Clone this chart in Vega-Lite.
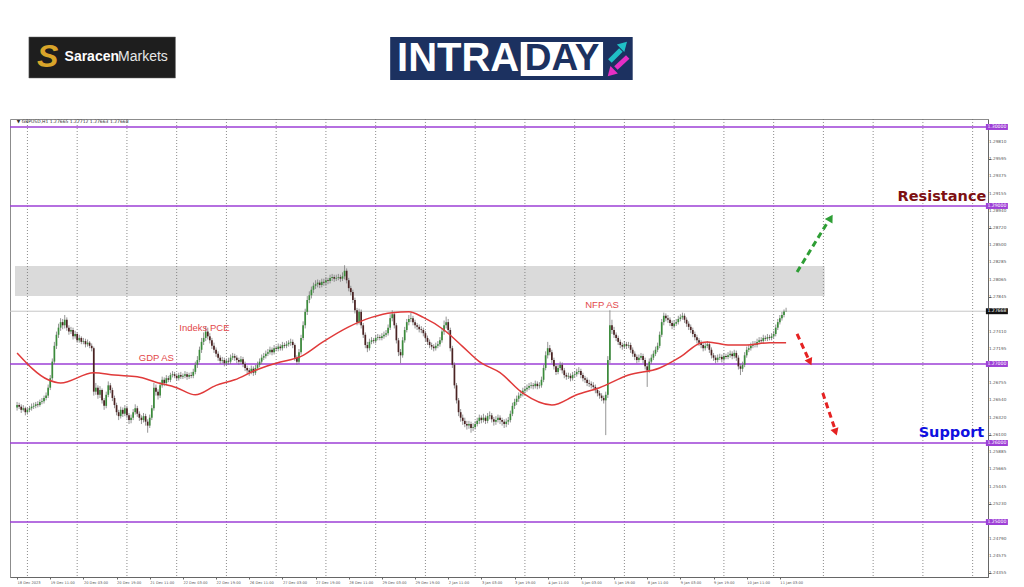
{
"$schema":"https://vega.github.io/schema/vega-lite/v6.json",
"width":978,"height":458,
"autosize":{"type":"none"},
"padding":{"left":10,"top":119,"right":36,"bottom":10},
"background":"white",
"config":{"view":{"stroke":"#8c8c8c","strokeWidth":1},"font":"Liberation Sans","axis":{"grid":false,"labelColor":"#555555","domainColor":"#666666","tickColor":"#666666","labelFont":"DejaVu Sans"}},
"datasets":{
"zone":[{"a":-1,"b":389.6,"lo":1.27861,"hi":1.28241}],
"grid":[{"g":5},{"g":29},{"g":53},{"g":77},{"g":101},{"g":125},{"g":149},{"g":173},{"g":197},{"g":221},{"g":245},{"g":269},{"g":293},{"g":317},{"g":341},{"g":365},{"g":389},{"g":413},{"g":437},{"g":461}],
"yt":[{"p":1.24355},{"p":1.24575},{"p":1.2479},{"p":1.2523},{"p":1.25445},{"p":1.25665},{"p":1.25885},{"p":1.261},{"p":1.2632},{"p":1.2654},{"p":1.26755},{"p":1.27195},{"p":1.2741},{"p":1.27845},{"p":1.28065},{"p":1.28285},{"p":1.285},{"p":1.2872},{"p":1.2894},{"p":1.29155},{"p":1.29375},{"p":1.29595},{"p":1.2981}],
"last":[{"p":1.27668}],
"levels":[{"p":1.3},{"p":1.29},{"p":1.27},{"p":1.26},{"p":1.25}],
"bars":[
{"i":0,"o":1.2645,"h":1.2652,"l":1.2641,"c":1.2648},
{"i":1,"o":1.2648,"h":1.2651,"l":1.2643,"c":1.2646},
{"i":2,"o":1.2646,"h":1.2649,"l":1.2638,"c":1.2642},
{"i":3,"o":1.2642,"h":1.2648,"l":1.2640,"c":1.2644},
{"i":4,"o":1.2644,"h":1.2646,"l":1.2635,"c":1.2639},
{"i":5,"o":1.2639,"h":1.2645,"l":1.2636,"c":1.2642},
{"i":6,"o":1.2642,"h":1.2647,"l":1.2639,"c":1.2644},
{"i":7,"o":1.2644,"h":1.2650,"l":1.2641,"c":1.2646},
{"i":8,"o":1.2646,"h":1.2651,"l":1.2643,"c":1.2647},
{"i":9,"o":1.2647,"h":1.2652,"l":1.2644,"c":1.2649},
{"i":10,"o":1.2649,"h":1.2653,"l":1.2645,"c":1.2648},
{"i":11,"o":1.2648,"h":1.2655,"l":1.2646,"c":1.2652},
{"i":12,"o":1.2652,"h":1.2657,"l":1.2649,"c":1.2653},
{"i":13,"o":1.2653,"h":1.2660,"l":1.2650,"c":1.2657},
{"i":14,"o":1.2657,"h":1.2664,"l":1.2654,"c":1.2660},
{"i":15,"o":1.2660,"h":1.2674,"l":1.2657,"c":1.2670},
{"i":16,"o":1.2670,"h":1.2686,"l":1.2667,"c":1.2682},
{"i":17,"o":1.2682,"h":1.2707,"l":1.2679,"c":1.2703},
{"i":18,"o":1.2703,"h":1.2728,"l":1.2700,"c":1.2723},
{"i":19,"o":1.2723,"h":1.2741,"l":1.2719,"c":1.2737},
{"i":20,"o":1.2737,"h":1.2751,"l":1.2733,"c":1.2746},
{"i":21,"o":1.2746,"h":1.2758,"l":1.2742,"c":1.2753},
{"i":22,"o":1.2753,"h":1.2757,"l":1.2744,"c":1.2749},
{"i":23,"o":1.2749,"h":1.2762,"l":1.2745,"c":1.2756},
{"i":24,"o":1.2756,"h":1.2759,"l":1.2742,"c":1.2746},
{"i":25,"o":1.2746,"h":1.2749,"l":1.2737,"c":1.2741},
{"i":26,"o":1.2741,"h":1.2747,"l":1.2738,"c":1.2743},
{"i":27,"o":1.2743,"h":1.2746,"l":1.2731,"c":1.2735},
{"i":28,"o":1.2735,"h":1.2742,"l":1.2732,"c":1.2738},
{"i":29,"o":1.2738,"h":1.2740,"l":1.2727,"c":1.2730},
{"i":30,"o":1.2730,"h":1.2737,"l":1.2727,"c":1.2733},
{"i":31,"o":1.2733,"h":1.2735,"l":1.2725,"c":1.2728},
{"i":32,"o":1.2728,"h":1.2733,"l":1.2725,"c":1.2729},
{"i":33,"o":1.2729,"h":1.2732,"l":1.2721,"c":1.2725},
{"i":34,"o":1.2725,"h":1.2731,"l":1.2722,"c":1.2727},
{"i":35,"o":1.2727,"h":1.2729,"l":1.2720,"c":1.2723},
{"i":36,"o":1.2723,"h":1.2726,"l":1.2716,"c":1.2720},
{"i":37,"o":1.2720,"h":1.2722,"l":1.2660,"c":1.2665},
{"i":38,"o":1.2665,"h":1.2676,"l":1.2661,"c":1.2670},
{"i":39,"o":1.2670,"h":1.2673,"l":1.2656,"c":1.2661},
{"i":40,"o":1.2661,"h":1.2672,"l":1.2657,"c":1.2667},
{"i":41,"o":1.2667,"h":1.2669,"l":1.2650,"c":1.2654},
{"i":42,"o":1.2654,"h":1.2657,"l":1.2642,"c":1.2647},
{"i":43,"o":1.2647,"h":1.2665,"l":1.2644,"c":1.2661},
{"i":44,"o":1.2661,"h":1.2678,"l":1.2658,"c":1.2673},
{"i":45,"o":1.2673,"h":1.2676,"l":1.2663,"c":1.2667},
{"i":46,"o":1.2667,"h":1.2670,"l":1.2653,"c":1.2657},
{"i":47,"o":1.2657,"h":1.2660,"l":1.2644,"c":1.2648},
{"i":48,"o":1.2648,"h":1.2651,"l":1.2635,"c":1.2639},
{"i":49,"o":1.2639,"h":1.2642,"l":1.2629,"c":1.2634},
{"i":50,"o":1.2634,"h":1.2646,"l":1.2631,"c":1.2642},
{"i":51,"o":1.2642,"h":1.2645,"l":1.2633,"c":1.2637},
{"i":52,"o":1.2637,"h":1.2648,"l":1.2634,"c":1.2644},
{"i":53,"o":1.2644,"h":1.2647,"l":1.2631,"c":1.2635},
{"i":54,"o":1.2635,"h":1.2638,"l":1.2624,"c":1.2629},
{"i":55,"o":1.2629,"h":1.2636,"l":1.2625,"c":1.2632},
{"i":56,"o":1.2632,"h":1.2643,"l":1.2629,"c":1.2639},
{"i":57,"o":1.2639,"h":1.2649,"l":1.2636,"c":1.2644},
{"i":58,"o":1.2644,"h":1.2647,"l":1.2633,"c":1.2637},
{"i":59,"o":1.2637,"h":1.2640,"l":1.2628,"c":1.2632},
{"i":60,"o":1.2632,"h":1.2635,"l":1.2624,"c":1.2629},
{"i":61,"o":1.2629,"h":1.2638,"l":1.2626,"c":1.2634},
{"i":62,"o":1.2634,"h":1.2637,"l":1.2622,"c":1.2627},
{"i":63,"o":1.2627,"h":1.2630,"l":1.2613,"c":1.2622},
{"i":64,"o":1.2622,"h":1.2636,"l":1.2619,"c":1.2632},
{"i":65,"o":1.2632,"h":1.2648,"l":1.2629,"c":1.2644},
{"i":66,"o":1.2644,"h":1.2676,"l":1.2641,"c":1.2670},
{"i":67,"o":1.2670,"h":1.2674,"l":1.2660,"c":1.2665},
{"i":68,"o":1.2665,"h":1.2668,"l":1.2655,"c":1.2660},
{"i":69,"o":1.2660,"h":1.2677,"l":1.2657,"c":1.2673},
{"i":70,"o":1.2673,"h":1.2684,"l":1.2670,"c":1.2680},
{"i":71,"o":1.2680,"h":1.2683,"l":1.2672,"c":1.2676},
{"i":72,"o":1.2676,"h":1.2686,"l":1.2673,"c":1.2682},
{"i":73,"o":1.2682,"h":1.2685,"l":1.2677,"c":1.2680},
{"i":74,"o":1.2680,"h":1.2689,"l":1.2677,"c":1.2686},
{"i":75,"o":1.2686,"h":1.2691,"l":1.2683,"c":1.2687},
{"i":76,"o":1.2687,"h":1.2690,"l":1.2682,"c":1.2685},
{"i":77,"o":1.2685,"h":1.2688,"l":1.2679,"c":1.2682},
{"i":78,"o":1.2682,"h":1.2689,"l":1.2679,"c":1.2686},
{"i":79,"o":1.2686,"h":1.2690,"l":1.2681,"c":1.2684},
{"i":80,"o":1.2684,"h":1.2688,"l":1.2681,"c":1.2685},
{"i":81,"o":1.2685,"h":1.2691,"l":1.2682,"c":1.2687},
{"i":82,"o":1.2687,"h":1.2690,"l":1.2680,"c":1.2684},
{"i":83,"o":1.2684,"h":1.2689,"l":1.2681,"c":1.2686},
{"i":84,"o":1.2686,"h":1.2690,"l":1.2682,"c":1.2685},
{"i":85,"o":1.2685,"h":1.2694,"l":1.2682,"c":1.2690},
{"i":86,"o":1.2690,"h":1.2703,"l":1.2687,"c":1.2699},
{"i":87,"o":1.2699,"h":1.2710,"l":1.2695,"c":1.2705},
{"i":88,"o":1.2705,"h":1.2722,"l":1.2702,"c":1.2718},
{"i":89,"o":1.2718,"h":1.2733,"l":1.2714,"c":1.2728},
{"i":90,"o":1.2728,"h":1.2740,"l":1.2724,"c":1.2733},
{"i":91,"o":1.2733,"h":1.2748,"l":1.2729,"c":1.2741},
{"i":92,"o":1.2741,"h":1.2746,"l":1.2731,"c":1.2735},
{"i":93,"o":1.2735,"h":1.2739,"l":1.2726,"c":1.2730},
{"i":94,"o":1.2730,"h":1.2733,"l":1.2719,"c":1.2723},
{"i":95,"o":1.2723,"h":1.2727,"l":1.2714,"c":1.2718},
{"i":96,"o":1.2718,"h":1.2721,"l":1.2709,"c":1.2713},
{"i":97,"o":1.2713,"h":1.2716,"l":1.2704,"c":1.2708},
{"i":98,"o":1.2708,"h":1.2711,"l":1.2700,"c":1.2704},
{"i":99,"o":1.2704,"h":1.2709,"l":1.2701,"c":1.2705},
{"i":100,"o":1.2705,"h":1.2708,"l":1.2697,"c":1.2701},
{"i":101,"o":1.2701,"h":1.2707,"l":1.2698,"c":1.2704},
{"i":102,"o":1.2704,"h":1.2708,"l":1.2699,"c":1.2703},
{"i":103,"o":1.2703,"h":1.2712,"l":1.2700,"c":1.2708},
{"i":104,"o":1.2708,"h":1.2714,"l":1.2705,"c":1.2710},
{"i":105,"o":1.2710,"h":1.2713,"l":1.2704,"c":1.2708},
{"i":106,"o":1.2708,"h":1.2711,"l":1.2701,"c":1.2705},
{"i":107,"o":1.2705,"h":1.2708,"l":1.2699,"c":1.2703},
{"i":108,"o":1.2703,"h":1.2710,"l":1.2700,"c":1.2706},
{"i":109,"o":1.2706,"h":1.2709,"l":1.2696,"c":1.2700},
{"i":110,"o":1.2700,"h":1.2703,"l":1.2691,"c":1.2695},
{"i":111,"o":1.2695,"h":1.2698,"l":1.2688,"c":1.2692},
{"i":112,"o":1.2692,"h":1.2695,"l":1.2685,"c":1.2690},
{"i":113,"o":1.2690,"h":1.2698,"l":1.2687,"c":1.2694},
{"i":114,"o":1.2694,"h":1.2697,"l":1.2685,"c":1.2689},
{"i":115,"o":1.2689,"h":1.2699,"l":1.2686,"c":1.2695},
{"i":116,"o":1.2695,"h":1.2703,"l":1.2692,"c":1.2699},
{"i":117,"o":1.2699,"h":1.2707,"l":1.2696,"c":1.2703},
{"i":118,"o":1.2703,"h":1.2712,"l":1.2700,"c":1.2708},
{"i":119,"o":1.2708,"h":1.2714,"l":1.2705,"c":1.2710},
{"i":120,"o":1.2710,"h":1.2717,"l":1.2707,"c":1.2713},
{"i":121,"o":1.2713,"h":1.2719,"l":1.2710,"c":1.2715},
{"i":122,"o":1.2715,"h":1.2722,"l":1.2712,"c":1.2718},
{"i":123,"o":1.2718,"h":1.2721,"l":1.2711,"c":1.2715},
{"i":124,"o":1.2715,"h":1.2724,"l":1.2712,"c":1.2720},
{"i":125,"o":1.2720,"h":1.2723,"l":1.2716,"c":1.2719},
{"i":126,"o":1.2719,"h":1.2726,"l":1.2716,"c":1.2722},
{"i":127,"o":1.2722,"h":1.2725,"l":1.2717,"c":1.2720},
{"i":128,"o":1.2720,"h":1.2728,"l":1.2717,"c":1.2724},
{"i":129,"o":1.2724,"h":1.2727,"l":1.2720,"c":1.2723},
{"i":130,"o":1.2723,"h":1.2729,"l":1.2720,"c":1.2725},
{"i":131,"o":1.2725,"h":1.2730,"l":1.2722,"c":1.2727},
{"i":132,"o":1.2727,"h":1.2732,"l":1.2723,"c":1.2728},
{"i":133,"o":1.2728,"h":1.2731,"l":1.2720,"c":1.2724},
{"i":134,"o":1.2724,"h":1.2726,"l":1.2704,"c":1.2708},
{"i":135,"o":1.2708,"h":1.2711,"l":1.2699,"c":1.2703},
{"i":136,"o":1.2703,"h":1.2719,"l":1.2700,"c":1.2715},
{"i":137,"o":1.2715,"h":1.2737,"l":1.2712,"c":1.2733},
{"i":138,"o":1.2733,"h":1.2754,"l":1.2730,"c":1.2749},
{"i":139,"o":1.2749,"h":1.2770,"l":1.2745,"c":1.2766},
{"i":140,"o":1.2766,"h":1.2786,"l":1.2762,"c":1.2781},
{"i":141,"o":1.2781,"h":1.2792,"l":1.2777,"c":1.2787},
{"i":142,"o":1.2787,"h":1.2798,"l":1.2783,"c":1.2794},
{"i":143,"o":1.2794,"h":1.2803,"l":1.2790,"c":1.2799},
{"i":144,"o":1.2799,"h":1.2806,"l":1.2795,"c":1.2801},
{"i":145,"o":1.2801,"h":1.2807,"l":1.2797,"c":1.2803},
{"i":146,"o":1.2803,"h":1.2806,"l":1.2796,"c":1.2800},
{"i":147,"o":1.2800,"h":1.2808,"l":1.2797,"c":1.2804},
{"i":148,"o":1.2804,"h":1.2808,"l":1.2799,"c":1.2803},
{"i":149,"o":1.2803,"h":1.2810,"l":1.2799,"c":1.2806},
{"i":150,"o":1.2806,"h":1.2809,"l":1.2801,"c":1.2805},
{"i":151,"o":1.2805,"h":1.2813,"l":1.2802,"c":1.2809},
{"i":152,"o":1.2809,"h":1.2814,"l":1.2805,"c":1.2810},
{"i":153,"o":1.2810,"h":1.2813,"l":1.2804,"c":1.2808},
{"i":154,"o":1.2808,"h":1.2813,"l":1.2805,"c":1.2809},
{"i":155,"o":1.2809,"h":1.2814,"l":1.2806,"c":1.2810},
{"i":156,"o":1.2810,"h":1.2813,"l":1.2804,"c":1.2808},
{"i":157,"o":1.2808,"h":1.2816,"l":1.2805,"c":1.2811},
{"i":158,"o":1.2811,"h":1.2825,"l":1.2807,"c":1.2818},
{"i":159,"o":1.2818,"h":1.2821,"l":1.2802,"c":1.2806},
{"i":160,"o":1.2806,"h":1.2809,"l":1.2792,"c":1.2796},
{"i":161,"o":1.2796,"h":1.2799,"l":1.2787,"c":1.2791},
{"i":162,"o":1.2791,"h":1.2794,"l":1.2777,"c":1.2781},
{"i":163,"o":1.2781,"h":1.2784,"l":1.2764,"c":1.2768},
{"i":164,"o":1.2768,"h":1.2771,"l":1.2749,"c":1.2753},
{"i":165,"o":1.2753,"h":1.2770,"l":1.2750,"c":1.2766},
{"i":166,"o":1.2766,"h":1.2769,"l":1.2745,"c":1.2749},
{"i":167,"o":1.2749,"h":1.2752,"l":1.2733,"c":1.2737},
{"i":168,"o":1.2737,"h":1.2740,"l":1.2720,"c":1.2724},
{"i":169,"o":1.2724,"h":1.2728,"l":1.2715,"c":1.2720},
{"i":170,"o":1.2720,"h":1.2732,"l":1.2717,"c":1.2728},
{"i":171,"o":1.2728,"h":1.2734,"l":1.2725,"c":1.2730},
{"i":172,"o":1.2730,"h":1.2733,"l":1.2726,"c":1.2729},
{"i":173,"o":1.2729,"h":1.2737,"l":1.2726,"c":1.2733},
{"i":174,"o":1.2733,"h":1.2738,"l":1.2730,"c":1.2734},
{"i":175,"o":1.2734,"h":1.2737,"l":1.2730,"c":1.2733},
{"i":176,"o":1.2733,"h":1.2739,"l":1.2730,"c":1.2735},
{"i":177,"o":1.2735,"h":1.2741,"l":1.2732,"c":1.2737},
{"i":178,"o":1.2737,"h":1.2743,"l":1.2734,"c":1.2739},
{"i":179,"o":1.2739,"h":1.2750,"l":1.2736,"c":1.2746},
{"i":180,"o":1.2746,"h":1.2763,"l":1.2743,"c":1.2758},
{"i":181,"o":1.2758,"h":1.2768,"l":1.2754,"c":1.2763},
{"i":182,"o":1.2763,"h":1.2766,"l":1.2745,"c":1.2749},
{"i":183,"o":1.2749,"h":1.2752,"l":1.2726,"c":1.2730},
{"i":184,"o":1.2730,"h":1.2733,"l":1.2710,"c":1.2715},
{"i":185,"o":1.2715,"h":1.2719,"l":1.2701,"c":1.2711},
{"i":186,"o":1.2711,"h":1.2734,"l":1.2708,"c":1.2730},
{"i":187,"o":1.2730,"h":1.2747,"l":1.2727,"c":1.2743},
{"i":188,"o":1.2743,"h":1.2757,"l":1.2740,"c":1.2753},
{"i":189,"o":1.2753,"h":1.2762,"l":1.2749,"c":1.2757},
{"i":190,"o":1.2757,"h":1.2765,"l":1.2753,"c":1.2758},
{"i":191,"o":1.2758,"h":1.2761,"l":1.2749,"c":1.2753},
{"i":192,"o":1.2753,"h":1.2756,"l":1.2745,"c":1.2749},
{"i":193,"o":1.2749,"h":1.2752,"l":1.2743,"c":1.2747},
{"i":194,"o":1.2747,"h":1.2750,"l":1.2740,"c":1.2744},
{"i":195,"o":1.2744,"h":1.2748,"l":1.2739,"c":1.2743},
{"i":196,"o":1.2743,"h":1.2746,"l":1.2735,"c":1.2739},
{"i":197,"o":1.2739,"h":1.2742,"l":1.2729,"c":1.2733},
{"i":198,"o":1.2733,"h":1.2736,"l":1.2724,"c":1.2728},
{"i":199,"o":1.2728,"h":1.2731,"l":1.2720,"c":1.2724},
{"i":200,"o":1.2724,"h":1.2727,"l":1.2718,"c":1.2722},
{"i":201,"o":1.2722,"h":1.2725,"l":1.2716,"c":1.2720},
{"i":202,"o":1.2720,"h":1.2727,"l":1.2717,"c":1.2723},
{"i":203,"o":1.2723,"h":1.2729,"l":1.2720,"c":1.2725},
{"i":204,"o":1.2725,"h":1.2734,"l":1.2722,"c":1.2730},
{"i":205,"o":1.2730,"h":1.2745,"l":1.2727,"c":1.2741},
{"i":206,"o":1.2741,"h":1.2755,"l":1.2737,"c":1.2749},
{"i":207,"o":1.2749,"h":1.2760,"l":1.2745,"c":1.2753},
{"i":208,"o":1.2753,"h":1.2757,"l":1.2739,"c":1.2743},
{"i":209,"o":1.2743,"h":1.2746,"l":1.2716,"c":1.2720},
{"i":210,"o":1.2720,"h":1.2723,"l":1.2695,"c":1.2699},
{"i":211,"o":1.2699,"h":1.2702,"l":1.2669,"c":1.2673},
{"i":212,"o":1.2673,"h":1.2676,"l":1.2650,"c":1.2654},
{"i":213,"o":1.2654,"h":1.2657,"l":1.2634,"c":1.2639},
{"i":214,"o":1.2639,"h":1.2643,"l":1.2627,"c":1.2632},
{"i":215,"o":1.2632,"h":1.2636,"l":1.2623,"c":1.2628},
{"i":216,"o":1.2628,"h":1.2632,"l":1.2620,"c":1.2624},
{"i":217,"o":1.2624,"h":1.2628,"l":1.2617,"c":1.2622},
{"i":218,"o":1.2622,"h":1.2628,"l":1.2618,"c":1.2624},
{"i":219,"o":1.2624,"h":1.2627,"l":1.2613,"c":1.2619},
{"i":220,"o":1.2619,"h":1.2625,"l":1.2615,"c":1.2620},
{"i":221,"o":1.2620,"h":1.2628,"l":1.2617,"c":1.2624},
{"i":222,"o":1.2624,"h":1.2632,"l":1.2621,"c":1.2628},
{"i":223,"o":1.2628,"h":1.2636,"l":1.2624,"c":1.2632},
{"i":224,"o":1.2632,"h":1.2635,"l":1.2625,"c":1.2629},
{"i":225,"o":1.2629,"h":1.2637,"l":1.2626,"c":1.2632},
{"i":226,"o":1.2632,"h":1.2635,"l":1.2624,"c":1.2628},
{"i":227,"o":1.2628,"h":1.2638,"l":1.2625,"c":1.2634},
{"i":228,"o":1.2634,"h":1.2640,"l":1.2630,"c":1.2635},
{"i":229,"o":1.2635,"h":1.2638,"l":1.2626,"c":1.2630},
{"i":230,"o":1.2630,"h":1.2633,"l":1.2622,"c":1.2627},
{"i":231,"o":1.2627,"h":1.2634,"l":1.2623,"c":1.2629},
{"i":232,"o":1.2629,"h":1.2636,"l":1.2626,"c":1.2632},
{"i":233,"o":1.2632,"h":1.2635,"l":1.2624,"c":1.2629},
{"i":234,"o":1.2629,"h":1.2632,"l":1.2622,"c":1.2627},
{"i":235,"o":1.2627,"h":1.2630,"l":1.2619,"c":1.2624},
{"i":236,"o":1.2624,"h":1.2631,"l":1.2620,"c":1.2627},
{"i":237,"o":1.2627,"h":1.2633,"l":1.2623,"c":1.2629},
{"i":238,"o":1.2629,"h":1.2641,"l":1.2626,"c":1.2637},
{"i":239,"o":1.2637,"h":1.2651,"l":1.2634,"c":1.2647},
{"i":240,"o":1.2647,"h":1.2656,"l":1.2643,"c":1.2652},
{"i":241,"o":1.2652,"h":1.2660,"l":1.2648,"c":1.2656},
{"i":242,"o":1.2656,"h":1.2664,"l":1.2652,"c":1.2660},
{"i":243,"o":1.2660,"h":1.2667,"l":1.2657,"c":1.2662},
{"i":244,"o":1.2662,"h":1.2670,"l":1.2659,"c":1.2666},
{"i":245,"o":1.2666,"h":1.2672,"l":1.2663,"c":1.2668},
{"i":246,"o":1.2668,"h":1.2674,"l":1.2665,"c":1.2670},
{"i":247,"o":1.2670,"h":1.2676,"l":1.2667,"c":1.2672},
{"i":248,"o":1.2672,"h":1.2677,"l":1.2669,"c":1.2673},
{"i":249,"o":1.2673,"h":1.2676,"l":1.2668,"c":1.2672},
{"i":250,"o":1.2672,"h":1.2679,"l":1.2669,"c":1.2675},
{"i":251,"o":1.2675,"h":1.2678,"l":1.2668,"c":1.2672},
{"i":252,"o":1.2672,"h":1.2677,"l":1.2669,"c":1.2673},
{"i":253,"o":1.2673,"h":1.2684,"l":1.2670,"c":1.2680},
{"i":254,"o":1.2680,"h":1.2699,"l":1.2677,"c":1.2695},
{"i":255,"o":1.2695,"h":1.2716,"l":1.2692,"c":1.2711},
{"i":256,"o":1.2711,"h":1.2728,"l":1.2707,"c":1.2720},
{"i":257,"o":1.2720,"h":1.2724,"l":1.2711,"c":1.2715},
{"i":258,"o":1.2715,"h":1.2718,"l":1.2701,"c":1.2705},
{"i":259,"o":1.2705,"h":1.2708,"l":1.2693,"c":1.2697},
{"i":260,"o":1.2697,"h":1.2700,"l":1.2686,"c":1.2690},
{"i":261,"o":1.2690,"h":1.2699,"l":1.2687,"c":1.2695},
{"i":262,"o":1.2695,"h":1.2703,"l":1.2692,"c":1.2699},
{"i":263,"o":1.2699,"h":1.2702,"l":1.2688,"c":1.2692},
{"i":264,"o":1.2692,"h":1.2695,"l":1.2682,"c":1.2686},
{"i":265,"o":1.2686,"h":1.2689,"l":1.2680,"c":1.2684},
{"i":266,"o":1.2684,"h":1.2689,"l":1.2681,"c":1.2685},
{"i":267,"o":1.2685,"h":1.2688,"l":1.2678,"c":1.2682},
{"i":268,"o":1.2682,"h":1.2690,"l":1.2679,"c":1.2686},
{"i":269,"o":1.2686,"h":1.2691,"l":1.2683,"c":1.2687},
{"i":270,"o":1.2687,"h":1.2694,"l":1.2684,"c":1.2690},
{"i":271,"o":1.2690,"h":1.2696,"l":1.2687,"c":1.2691},
{"i":272,"o":1.2691,"h":1.2694,"l":1.2682,"c":1.2686},
{"i":273,"o":1.2686,"h":1.2689,"l":1.2678,"c":1.2682},
{"i":274,"o":1.2682,"h":1.2685,"l":1.2676,"c":1.2680},
{"i":275,"o":1.2680,"h":1.2683,"l":1.2672,"c":1.2676},
{"i":276,"o":1.2676,"h":1.2680,"l":1.2671,"c":1.2675},
{"i":277,"o":1.2675,"h":1.2678,"l":1.2669,"c":1.2673},
{"i":278,"o":1.2673,"h":1.2677,"l":1.2667,"c":1.2671},
{"i":279,"o":1.2671,"h":1.2674,"l":1.2663,"c":1.2667},
{"i":280,"o":1.2667,"h":1.2670,"l":1.2659,"c":1.2663},
{"i":281,"o":1.2663,"h":1.2666,"l":1.2656,"c":1.2660},
{"i":282,"o":1.2660,"h":1.2663,"l":1.2653,"c":1.2657},
{"i":283,"o":1.2657,"h":1.2660,"l":1.2650,"c":1.2654},
{"i":284,"o":1.2654,"h":1.2665,"l":1.2610,"c":1.2661},
{"i":285,"o":1.2661,"h":1.2710,"l":1.2657,"c":1.2705},
{"i":286,"o":1.2705,"h":1.2768,"l":1.2701,"c":1.2749},
{"i":287,"o":1.2749,"h":1.2756,"l":1.2738,"c":1.2743},
{"i":288,"o":1.2743,"h":1.2747,"l":1.2733,"c":1.2737},
{"i":289,"o":1.2737,"h":1.2740,"l":1.2729,"c":1.2733},
{"i":290,"o":1.2733,"h":1.2736,"l":1.2724,"c":1.2728},
{"i":291,"o":1.2728,"h":1.2731,"l":1.2720,"c":1.2724},
{"i":292,"o":1.2724,"h":1.2727,"l":1.2718,"c":1.2722},
{"i":293,"o":1.2722,"h":1.2729,"l":1.2719,"c":1.2725},
{"i":294,"o":1.2725,"h":1.2728,"l":1.2719,"c":1.2723},
{"i":295,"o":1.2723,"h":1.2728,"l":1.2720,"c":1.2724},
{"i":296,"o":1.2724,"h":1.2727,"l":1.2714,"c":1.2718},
{"i":297,"o":1.2718,"h":1.2721,"l":1.2709,"c":1.2713},
{"i":298,"o":1.2713,"h":1.2716,"l":1.2705,"c":1.2709},
{"i":299,"o":1.2709,"h":1.2712,"l":1.2701,"c":1.2705},
{"i":300,"o":1.2705,"h":1.2712,"l":1.2702,"c":1.2708},
{"i":301,"o":1.2708,"h":1.2714,"l":1.2705,"c":1.2710},
{"i":302,"o":1.2710,"h":1.2713,"l":1.2701,"c":1.2705},
{"i":303,"o":1.2705,"h":1.2708,"l":1.2693,"c":1.2697},
{"i":304,"o":1.2697,"h":1.2700,"l":1.2671,"c":1.2692},
{"i":305,"o":1.2692,"h":1.2707,"l":1.2689,"c":1.2703},
{"i":306,"o":1.2703,"h":1.2712,"l":1.2700,"c":1.2708},
{"i":307,"o":1.2708,"h":1.2717,"l":1.2705,"c":1.2713},
{"i":308,"o":1.2713,"h":1.2722,"l":1.2710,"c":1.2718},
{"i":309,"o":1.2718,"h":1.2727,"l":1.2715,"c":1.2723},
{"i":310,"o":1.2723,"h":1.2741,"l":1.2720,"c":1.2737},
{"i":311,"o":1.2737,"h":1.2757,"l":1.2734,"c":1.2753},
{"i":312,"o":1.2753,"h":1.2765,"l":1.2749,"c":1.2761},
{"i":313,"o":1.2761,"h":1.2764,"l":1.2754,"c":1.2758},
{"i":314,"o":1.2758,"h":1.2762,"l":1.2752,"c":1.2756},
{"i":315,"o":1.2756,"h":1.2759,"l":1.2748,"c":1.2752},
{"i":316,"o":1.2752,"h":1.2755,"l":1.2744,"c":1.2748},
{"i":317,"o":1.2748,"h":1.2755,"l":1.2745,"c":1.2751},
{"i":318,"o":1.2751,"h":1.2757,"l":1.2748,"c":1.2753},
{"i":319,"o":1.2753,"h":1.2761,"l":1.2750,"c":1.2757},
{"i":320,"o":1.2757,"h":1.2763,"l":1.2754,"c":1.2759},
{"i":321,"o":1.2759,"h":1.2765,"l":1.2756,"c":1.2761},
{"i":322,"o":1.2761,"h":1.2764,"l":1.2752,"c":1.2756},
{"i":323,"o":1.2756,"h":1.2759,"l":1.2747,"c":1.2751},
{"i":324,"o":1.2751,"h":1.2754,"l":1.2743,"c":1.2747},
{"i":325,"o":1.2747,"h":1.2750,"l":1.2739,"c":1.2743},
{"i":326,"o":1.2743,"h":1.2746,"l":1.2734,"c":1.2738},
{"i":327,"o":1.2738,"h":1.2741,"l":1.2730,"c":1.2734},
{"i":328,"o":1.2734,"h":1.2737,"l":1.2726,"c":1.2730},
{"i":329,"o":1.2730,"h":1.2733,"l":1.2723,"c":1.2727},
{"i":330,"o":1.2727,"h":1.2730,"l":1.2720,"c":1.2724},
{"i":331,"o":1.2724,"h":1.2727,"l":1.2716,"c":1.2720},
{"i":332,"o":1.2720,"h":1.2727,"l":1.2717,"c":1.2723},
{"i":333,"o":1.2723,"h":1.2729,"l":1.2720,"c":1.2725},
{"i":334,"o":1.2725,"h":1.2728,"l":1.2714,"c":1.2718},
{"i":335,"o":1.2718,"h":1.2721,"l":1.2707,"c":1.2711},
{"i":336,"o":1.2711,"h":1.2714,"l":1.2704,"c":1.2708},
{"i":337,"o":1.2708,"h":1.2711,"l":1.2701,"c":1.2705},
{"i":338,"o":1.2705,"h":1.2712,"l":1.2702,"c":1.2708},
{"i":339,"o":1.2708,"h":1.2713,"l":1.2705,"c":1.2709},
{"i":340,"o":1.2709,"h":1.2712,"l":1.2702,"c":1.2706},
{"i":341,"o":1.2706,"h":1.2714,"l":1.2703,"c":1.2710},
{"i":342,"o":1.2710,"h":1.2713,"l":1.2706,"c":1.2709},
{"i":343,"o":1.2709,"h":1.2715,"l":1.2706,"c":1.2711},
{"i":344,"o":1.2711,"h":1.2717,"l":1.2708,"c":1.2713},
{"i":345,"o":1.2713,"h":1.2716,"l":1.2706,"c":1.2710},
{"i":346,"o":1.2710,"h":1.2718,"l":1.2707,"c":1.2714},
{"i":347,"o":1.2714,"h":1.2717,"l":1.2704,"c":1.2708},
{"i":348,"o":1.2708,"h":1.2711,"l":1.2693,"c":1.2697},
{"i":349,"o":1.2697,"h":1.2700,"l":1.2686,"c":1.2694},
{"i":350,"o":1.2694,"h":1.2703,"l":1.2690,"c":1.2699},
{"i":351,"o":1.2699,"h":1.2715,"l":1.2696,"c":1.2711},
{"i":352,"o":1.2711,"h":1.2722,"l":1.2708,"c":1.2718},
{"i":353,"o":1.2718,"h":1.2724,"l":1.2715,"c":1.2720},
{"i":354,"o":1.2720,"h":1.2727,"l":1.2717,"c":1.2723},
{"i":355,"o":1.2723,"h":1.2729,"l":1.2720,"c":1.2725},
{"i":356,"o":1.2725,"h":1.2729,"l":1.2721,"c":1.2724},
{"i":357,"o":1.2724,"h":1.2732,"l":1.2721,"c":1.2728},
{"i":358,"o":1.2728,"h":1.2734,"l":1.2725,"c":1.2730},
{"i":359,"o":1.2730,"h":1.2734,"l":1.2726,"c":1.2729},
{"i":360,"o":1.2729,"h":1.2737,"l":1.2726,"c":1.2733},
{"i":361,"o":1.2733,"h":1.2736,"l":1.2729,"c":1.2732},
{"i":362,"o":1.2732,"h":1.2738,"l":1.2729,"c":1.2734},
{"i":363,"o":1.2734,"h":1.2737,"l":1.2730,"c":1.2733},
{"i":364,"o":1.2733,"h":1.2739,"l":1.2730,"c":1.2735},
{"i":365,"o":1.2735,"h":1.2742,"l":1.2732,"c":1.2738},
{"i":366,"o":1.2738,"h":1.2750,"l":1.2735,"c":1.2746},
{"i":367,"o":1.2746,"h":1.2757,"l":1.2743,"c":1.2753},
{"i":368,"o":1.2753,"h":1.2762,"l":1.2750,"c":1.2758},
{"i":369,"o":1.2758,"h":1.2766,"l":1.2755,"c":1.2762},
{"i":370,"o":1.2762,"h":1.2769,"l":1.2759,"c":1.27665},
{"i":371,"o":1.27665,"h":1.27712,"l":1.27663,"c":1.27668}
],
"ma":[
{"i":0,"p":1.2714},{"i":15,"p":1.2680},{"i":21,"p":1.2676},{"i":37,"p":1.2689},{"i":47,"p":1.2686},{"i":58,"p":1.2684},{"i":67,"p":1.2677},{"i":77,"p":1.2670},{"i":86,"p":1.2661},{"i":96,"p":1.2673},{"i":105,"p":1.2680},{"i":115,"p":1.2692},{"i":125,"p":1.2701},{"i":138,"p":1.2711},{"i":147,"p":1.2727},{"i":160,"p":1.2747},{"i":171,"p":1.2759},{"i":181,"p":1.2765},{"i":189,"p":1.2766},{"i":196,"p":1.2759},{"i":206,"p":1.2743},{"i":215,"p":1.2722},{"i":223,"p":1.2703},{"i":233,"p":1.2689},{"i":244,"p":1.2663},{"i":258,"p":1.2648},{"i":270,"p":1.2661},{"i":281,"p":1.2670},{"i":295,"p":1.2686},{"i":310,"p":1.2695},{"i":320,"p":1.2709},{"i":330,"p":1.2727},{"i":333,"p":1.2728},{"i":344,"p":1.2724},{"i":352,"p":1.2724},{"i":363,"p":1.2727},{"i":371,"p":1.2727}
],
"notes":[{"i":58.7,"p":1.27076,"t":"GDP AS"},{"i":78.3,"p":1.27456,"t":"Indeks PCE"},{"i":274.1,"p":1.27747,"t":"NFP AS"}],
"arrowG":[{"i":376.3,"p":1.28165},{"i":391.1,"p":1.28797}],
"headG":[{"i":392.5,"p":1.28848}],
"arrowR1":[{"i":376.3,"p":1.2738},{"i":382.0,"p":1.27051}],
"headR1":[{"i":382.5,"p":1.27025}],
"arrowR2":[{"i":388.7,"p":1.26633},{"i":394.4,"p":1.2619}],
"headR2":[{"i":394.9,"p":1.26139}]
},
"layer":[
{"data":{"name":"zone"},"mark":{"type":"rect","color":"#dadada"},
 "encoding":{
  "x":{"field":"a","type":"quantitative","title":null,"scale":{"domain":[-1,466],"nice":false,"zero":false},
   "axis":{"orient":"bottom","title":null,"values":[0,16,32,48,64,80,96,112,128,144,160,176,192,208,224,240,256,272,288,304,320,336,352,368],
   "labelExpr":"['18 Dec 2023','19 Dec 11:00','20 Dec 03:00','20 Dec 19:00','21 Dec 11:00','22 Dec 03:00','22 Dec 19:00','26 Dec 11:00','27 Dec 03:00','27 Dec 19:00','28 Dec 11:00','29 Dec 03:00','29 Dec 19:00','2 Jan 11:00','3 Jan 03:00','3 Jan 19:00','4 Jan 11:00','5 Jan 03:00','5 Jan 19:00','8 Jan 11:00','9 Jan 03:00','9 Jan 19:00','10 Jan 11:00','11 Jan 03:00'][datum.value/16]",
   "labelAlign":"left","labelFontSize":3.6,"labelPadding":1,"tickSize":2,"labelOverlap":false,"labelFlush":false}},
  "x2":{"field":"b"},
  "y":{"field":"lo","type":"quantitative","title":null,"scale":{"domain":[1.24304,1.30101],"nice":false,"zero":false},
   "axis":{"orient":"right","title":null,"values":[1.24355,1.24575,1.2479,1.2501,1.2523,1.25445,1.25665,1.25885,1.261,1.2632,1.2654,1.26755,1.26975,1.27195,1.2741,1.27625,1.27845,1.28065,1.28285,1.285,1.2872,1.2894,1.29155,1.29375,1.29595,1.2981],
   "labels":false,"tickSize":3}},
  "y2":{"field":"hi"}}},
{"data":{"name":"yt"},"mark":{"type":"text","color":"#555555","fontSize":4.2,"font":"DejaVu Sans","align":"left","baseline":"middle"},
 "encoding":{"x":{"datum":468.9,"type":"quantitative","title":null},"y":{"field":"p","type":"quantitative","title":null},"text":{"field":"p","type":"quantitative","format":".5f"}}},
{"data":{"name":"grid"},"mark":{"type":"rule","color":"#6e6e6e","strokeWidth":0.8,"strokeDash":[1,2]},
 "encoding":{"x":{"field":"g","type":"quantitative","title":null}}},
{"data":{"name":"last"},"mark":{"type":"rule","color":"#c6c6c6","strokeWidth":1},
 "encoding":{"y":{"field":"p","type":"quantitative","title":null}}},
{"data":{"name":"levels"},"mark":{"type":"rule","color":"#9d3fd6","strokeWidth":1.6},
 "encoding":{"y":{"field":"p","type":"quantitative","title":null}}},
{"data":{"name":"bars"},"mark":{"type":"rule","color":"#7a7a7a","strokeWidth":0.8},
 "encoding":{"x":{"field":"i","type":"quantitative","title":null},"y":{"field":"l","type":"quantitative","title":null},"y2":{"field":"h"}}},
{"data":{"name":"bars"},"mark":{"type":"bar","size":1.7},
 "encoding":{"x":{"field":"i","type":"quantitative","title":null},"y":{"field":"o","type":"quantitative","title":null},"y2":{"field":"c"},
  "color":{"condition":{"test":"datum.c >= datum.o","value":"#3b8b3b"},"value":"#4a2222"}}},
{"data":{"name":"ma"},"mark":{"type":"line","color":"#e03a3a","strokeWidth":1.5,"interpolate":"monotone"},
 "encoding":{"x":{"field":"i","type":"quantitative","title":null},"y":{"field":"p","type":"quantitative","title":null}}},
{"data":{"name":"notes"},"mark":{"type":"text","color":"#e2474a","fontSize":9.5,"align":"left","baseline":"middle"},
 "encoding":{"x":{"field":"i","type":"quantitative","title":null},"y":{"field":"p","type":"quantitative","title":null},"text":{"field":"t"}}},
{"data":{"values":[{"i":467.6,"p":1.29114,"t":"Resistance"}]},"mark":{"type":"text","color":"#7d0f12","fontSize":14.5,"fontWeight":900,"align":"right","baseline":"middle","font":"DejaVu Sans"},
 "encoding":{"x":{"field":"i","type":"quantitative","title":null},"y":{"field":"p","type":"quantitative","title":null},"text":{"field":"t"}}},
{"data":{"values":[{"i":466.6,"p":1.26127,"t":"Support"}]},"mark":{"type":"text","color":"#1010e0","fontSize":14.5,"fontWeight":900,"align":"right","baseline":"middle","font":"DejaVu Sans"},
 "encoding":{"x":{"field":"i","type":"quantitative","title":null},"y":{"field":"p","type":"quantitative","title":null},"text":{"field":"t"}}},
{"data":{"name":"arrowG"},"mark":{"type":"line","color":"#2e9e35","strokeWidth":3,"strokeDash":[6,4]},
 "encoding":{"x":{"field":"i","type":"quantitative","title":null},"y":{"field":"p","type":"quantitative","title":null}}},
{"data":{"name":"headG"},"mark":{"type":"point","shape":"triangle-up","filled":true,"opacity":1,"color":"#2e9e35","size":80,"angle":31},
 "encoding":{"x":{"field":"i","type":"quantitative","title":null},"y":{"field":"p","type":"quantitative","title":null}}},
{"data":{"name":"arrowR1"},"mark":{"type":"line","color":"#e52222","strokeWidth":3,"strokeDash":[6,4]},
 "encoding":{"x":{"field":"i","type":"quantitative","title":null},"y":{"field":"p","type":"quantitative","title":null}}},
{"data":{"name":"headR1"},"mark":{"type":"point","shape":"triangle-up","filled":true,"opacity":1,"color":"#e52222","size":70,"angle":155},
 "encoding":{"x":{"field":"i","type":"quantitative","title":null},"y":{"field":"p","type":"quantitative","title":null}}},
{"data":{"name":"arrowR2"},"mark":{"type":"line","color":"#e52222","strokeWidth":3,"strokeDash":[6,4]},
 "encoding":{"x":{"field":"i","type":"quantitative","title":null},"y":{"field":"p","type":"quantitative","title":null}}},
{"data":{"name":"headR2"},"mark":{"type":"point","shape":"triangle-up","filled":true,"opacity":1,"color":"#e52222","size":70,"angle":161},
 "encoding":{"x":{"field":"i","type":"quantitative","title":null},"y":{"field":"p","type":"quantitative","title":null}}},
{"data":{"name":"levels"},"mark":{"type":"point","shape":"M-1,-0.27H1V0.27H-1Z","filled":true,"opacity":1,"color":"#9d3fd6","size":484},
 "encoding":{"x":{"datum":472.7,"type":"quantitative","title":null},"y":{"field":"p","type":"quantitative","title":null}}},
{"data":{"name":"levels"},"mark":{"type":"text","color":"white","fontSize":4.6,"align":"center","baseline":"middle","font":"DejaVu Sans"},
 "encoding":{"x":{"datum":472.7,"type":"quantitative","title":null},"y":{"field":"p","type":"quantitative","title":null},"text":{"field":"p","type":"quantitative","format":".5f"}}},
{"data":{"name":"last"},"mark":{"type":"point","shape":"M-1,-0.27H1V0.27H-1Z","filled":true,"opacity":1,"color":"#111111","size":484},
 "encoding":{"x":{"datum":472.7,"type":"quantitative","title":null},"y":{"field":"p","type":"quantitative","title":null}}},
{"data":{"name":"last"},"mark":{"type":"text","color":"white","fontSize":4.6,"align":"center","baseline":"middle","font":"DejaVu Sans"},
 "encoding":{"x":{"datum":472.7,"type":"quantitative","title":null},"y":{"field":"p","type":"quantitative","title":null},"text":{"field":"p","type":"quantitative","format":".5f"}}},
{"data":{"values":[{"i":-0.1,"p":1.30066,"t":"▼ GBPUSD,H1  1.27665 1.27712 1.27663 1.27668"}]},"mark":{"type":"text","color":"#333333","fontSize":4.5,"align":"left","baseline":"middle","font":"DejaVu Sans"},
 "encoding":{"x":{"field":"i","type":"quantitative","title":null},"y":{"field":"p","type":"quantitative","title":null},"text":{"field":"t"}}},
{"data":{"values":[{"a":5.7,"b":76.4,"lo":1.3062,"hi":1.31139}]},"mark":{"type":"rect","color":"#1e1e1e","stroke":"#6a6a6a","strokeWidth":0.5},
 "encoding":{"x":{"field":"a","type":"quantitative","title":null},"x2":{"field":"b"},"y":{"field":"lo","type":"quantitative","title":null},"y2":{"field":"hi"}}},
{"data":{"values":[{"i":14.8,"p":1.30886,"t":"S"}]},"mark":{"type":"text","color":"#d9a52a","fontSize":32,"fontWeight":"bold","fontStyle":"italic","align":"center","baseline":"middle"},
 "encoding":{"x":{"field":"i","type":"quantitative","title":null},"y":{"field":"p","type":"quantitative","title":null},"text":{"field":"t"}}},
{"data":{"values":[{"i":22.9,"p":1.30886,"t":"Saracen"}]},"mark":{"type":"text","color":"white","fontSize":14,"fontWeight":"bold","align":"left","baseline":"middle"},
 "encoding":{"x":{"field":"i","type":"quantitative","title":null},"y":{"field":"p","type":"quantitative","title":null},"text":{"field":"t"}}},
{"data":{"values":[{"i":48.7,"p":1.30886,"t":"Markets"}]},"mark":{"type":"text","color":"#e6e6e6","fontSize":14,"align":"left","baseline":"middle"},
 "encoding":{"x":{"field":"i","type":"quantitative","title":null},"y":{"field":"p","type":"quantitative","title":null},"text":{"field":"t"}}},
{"data":{"values":[{"a":180.0,"b":297.0,"lo":1.30595,"hi":1.31139}]},"mark":{"type":"rect","color":"#1c3160"},
 "encoding":{"x":{"field":"a","type":"quantitative","title":null},"x2":{"field":"b"},"y":{"field":"lo","type":"quantitative","title":null},"y2":{"field":"hi"}}},
{"data":{"values":[{"a":243.0,"b":282.7,"lo":1.30646,"hi":1.31076}]},"mark":{"type":"rect","color":"white"},
 "encoding":{"x":{"field":"a","type":"quantitative","title":null},"x2":{"field":"b"},"y":{"field":"lo","type":"quantitative","title":null},"y2":{"field":"hi"}}},
{"data":{"values":[{"i":183.3,"p":1.30861,"t":"INTRA"}]},"mark":{"type":"text","color":"white","fontSize":40,"fontWeight":"bold","align":"left","baseline":"middle"},
 "encoding":{"x":{"field":"i","type":"quantitative","title":null},"y":{"field":"p","type":"quantitative","title":null},"text":{"field":"t"}}},
{"data":{"values":[{"i":244.9,"p":1.30861,"t":"DAY"}]},"mark":{"type":"text","color":"#1c3160","fontSize":37,"fontWeight":"bold","align":"left","baseline":"middle"},
 "encoding":{"x":{"field":"i","type":"quantitative","title":null},"y":{"field":"p","type":"quantitative","title":null},"text":{"field":"t"}}},
{"data":{"values":[{"a":286.0,"b":291.3,"lo":1.30835,"hi":1.30975}]},"mark":{"type":"rule","color":"#20c0c6","strokeWidth":5},
 "encoding":{"x":{"field":"a","type":"quantitative","title":null},"x2":{"field":"b"},"y":{"field":"lo","type":"quantitative","title":null},"y2":{"field":"hi"}}},
{"data":{"values":[{"i":292.7,"p":1.31038}]},"mark":{"type":"point","shape":"triangle-up","filled":true,"opacity":1,"color":"#20c0c6","size":110,"angle":45},
 "encoding":{"x":{"field":"i","type":"quantitative","title":null},"y":{"field":"p","type":"quantitative","title":null}}},
{"data":{"values":[{"a":294.6,"b":288.9,"lo":1.30886,"hi":1.30747}]},"mark":{"type":"rule","color":"#e62fc4","strokeWidth":5},
 "encoding":{"x":{"field":"a","type":"quantitative","title":null},"x2":{"field":"b"},"y":{"field":"lo","type":"quantitative","title":null},"y2":{"field":"hi"}}},
{"data":{"values":[{"i":286.5,"p":1.30684}]},"mark":{"type":"point","shape":"triangle-up","filled":true,"opacity":1,"color":"#e62fc4","size":110,"angle":225},
 "encoding":{"x":{"field":"i","type":"quantitative","title":null},"y":{"field":"p","type":"quantitative","title":null}}}
]
}
